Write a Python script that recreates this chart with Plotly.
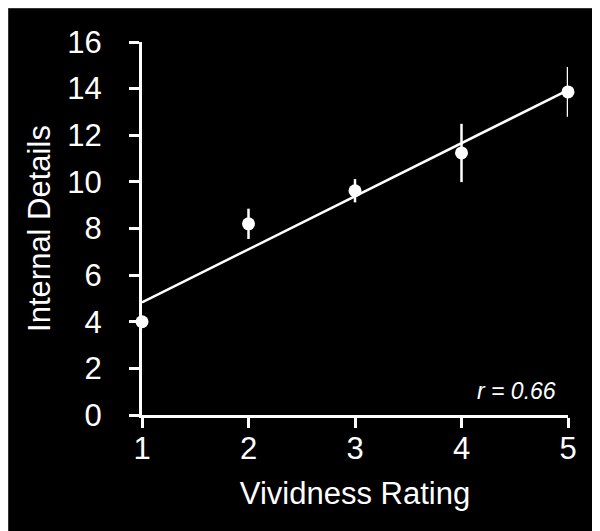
import numpy as np
import plotly.graph_objects as go

vividness = [1, 2, 3, 4, 5]
internal_details = [4.0, 8.2, 9.62, 11.24, 13.86]
error = [0.15, 0.65, 0.5, 1.25, 1.07]
x_ticks = [1, 2, 3, 4, 5]
y_ticks = [0, 2, 4, 6, 8, 10, 12, 14, 16]
r_label = "r = 0.66"

slope, intercept = np.polyfit(vividness, internal_details, 1)
line_x = [min(vividness), max(vividness)]
line_y = [slope * v + intercept for v in line_x]

fig = go.Figure()
fig.add_trace(go.Scatter(
    x=line_x, y=line_y, mode="lines",
    line=dict(color="white", width=2.5), showlegend=False, cliponaxis=False,
))
fig.add_trace(go.Scatter(
    x=vividness, y=internal_details, mode="markers",
    marker=dict(color="white", size=13),
    error_y=dict(type="data", array=error, color="white", thickness=2.5, width=0),
    showlegend=False, cliponaxis=False,
))

font = dict(family="Liberation Sans, Arial, sans-serif", color="white")
fig.update_layout(
    width=600, height=531,
    paper_bgcolor="black", plot_bgcolor="black",
    margin=dict(l=134, r=40, t=34, b=124),
    font=font,
    xaxis=dict(
        range=[1, 5], tickvals=x_ticks, showgrid=False, zeroline=False,
        showline=True, linecolor="white", linewidth=3,
        ticks="outside", ticklen=10, tickwidth=3, tickcolor="white",
        tickfont=dict(size=31, color="white"), ticklabelstandoff=-6,
        title=dict(text="Vividness Rating", font=dict(size=31, color="white"), standoff=18),
    ),
    yaxis=dict(
        range=[0, 16], tickvals=y_ticks, showgrid=False, zeroline=False,
        showline=True, linecolor="white", linewidth=3,
        ticks="outside", ticklen=10, tickwidth=3, tickcolor="white",
        tickfont=dict(size=31, color="white"), ticklabelstandoff=21,
        title=dict(text="Internal Details", font=dict(size=31, color="white"), standoff=8),
    ),
    annotations=[dict(
        x=(508 - 134) / 426, y=(407 - 383) / 373, xref="paper", yref="paper",
        text="<i>" + r_label + "</i>",
        showarrow=False, font=dict(size=23, color="white"), xanchor="center", yanchor="middle",
    )],
    shapes=[dict(
        type="rect", xref="paper", yref="paper",
        x0=-134 / 426, x1=(599 - 134) / 426, y0=-123 / 373, y1=(373 + 34) / 373,
        line=dict(color="#666666", width=1), layer="below",
    )],
)

fig.write_html("out.html")
